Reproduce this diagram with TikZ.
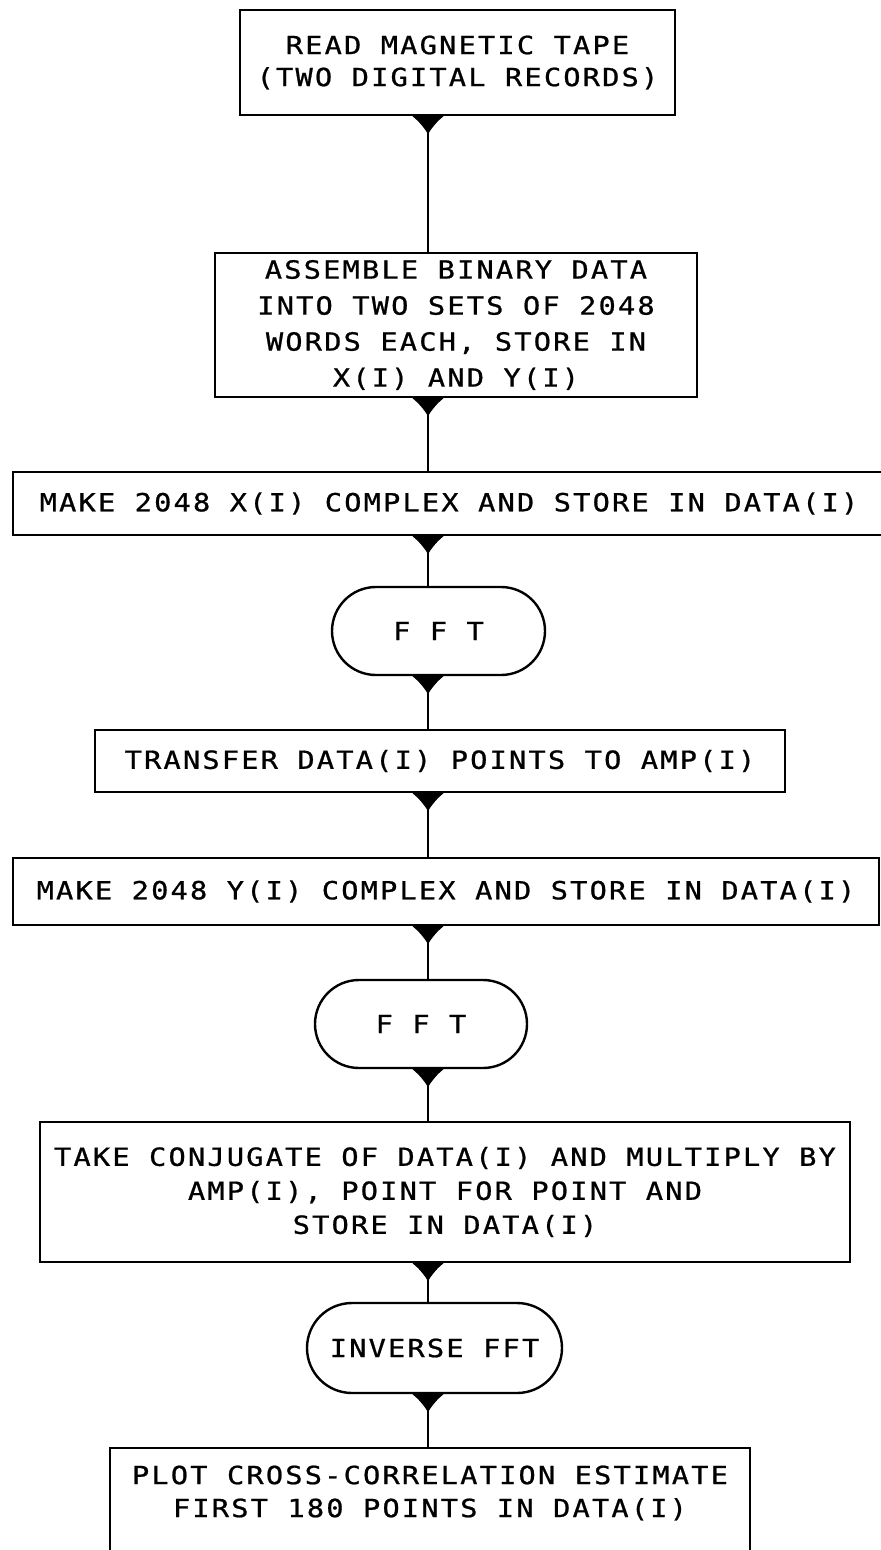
\documentclass[tikz,border=0pt]{standalone}
\usepackage{fontspec}
\setmainfont{DejaVu Sans Mono}[FakeStretch=1.15,LetterSpace=8.5,FakeBold=0.8]
\usetikzlibrary{arrows.meta,shapes.misc}
\newcommand\lrfont[1]{\fontsize{12.5}{#1}\selectfont}
\begin{document}
\begin{tikzpicture}[x=0.5pt,y=-0.5pt,
  box/.style={draw, line width=1.2pt, rectangle, inner sep=0pt, align=center},
  term/.style={draw, line width=1.2pt, rounded rectangle, inner sep=0pt, align=center},
  flow/.style={line width=1.1pt, {Latex[reversed,length=9pt,width=16pt]}-},
  sz/.style 2 args={minimum width=#1*0.5pt, minimum height=#2*0.5pt}]
\path[use as bounding box, fill=white] (0,0) rectangle (881,1550);
\clip (0,0) rectangle (881,1550);
\coordinate (spine) at (428,0);

\node[box, sz={435}{105}, font=\lrfont{16}] (b1) at (457.5,62.5)
  {READ MAGNETIC TAPE\\(TWO DIGITAL RECORDS)};
\node[box, sz={482}{144}, font=\lrfont{18}] (b2) at (456,325)
  {ASSEMBLE BINARY DATA\\INTO TWO SETS OF 2048\\WORDS EACH, STORE IN\\X(I) AND Y(I)};
\node[box, sz={872}{63}, font=\lrfont{17}] (b3) at (449,503.5)
  {MAKE 2048 X(I) COMPLEX AND STORE IN DATA(I)};
\node[term, sz={213}{88}, font=\lrfont{17}] (f1) at (438.5,631) {F F T};
\node[box, sz={690}{62}, font=\lrfont{17}] (b4) at (440,761)
  {TRANSFER DATA(I) POINTS TO AMP(I)};
\node[box, sz={866}{67}, font=\lrfont{17}] (b5) at (446,891.5)
  {MAKE 2048 Y(I) COMPLEX AND STORE IN DATA(I)};
\node[term, sz={212}{88}, font=\lrfont{17}] (f2) at (421,1024) {F F T};
\node[box, sz={810}{140}, font=\lrfont{17}] (b6) at (445,1192)
  {TAKE CONJUGATE OF DATA(I) AND MULTIPLY BY\\AMP(I), POINT FOR POINT AND\\STORE IN DATA(I)};
\node[term, sz={255}{90}, font=\lrfont{17}] (f3) at (434.5,1348) {INVERSE FFT};
\node[box, sz={640}{108}, font=\lrfont{16.5}] (b7) at (430,1502)
  {\raisebox{4pt}[\height][\depth]{\begin{tabular}{@{}c@{}}PLOT CROSS-CORRELATION ESTIMATE\\FIRST 180 POINTS IN DATA(I)\end{tabular}}};

\draw[flow] (b1.south -| spine) -- (b2.north -| spine);
\draw[flow] (b2.south -| spine) -- (b3.north -| spine);
\draw[flow] (b3.south -| spine) -- (f1.north -| spine);
\draw[flow] (f1.south -| spine) -- (b4.north -| spine);
\draw[flow] (b4.south -| spine) -- (b5.north -| spine);
\draw[flow] (b5.south -| spine) -- (f2.north -| spine);
\draw[flow] (f2.south -| spine) -- (b6.north -| spine);
\draw[flow] (b6.south -| spine) -- (f3.north -| spine);
\draw[flow] (f3.south -| spine) -- (b7.north -| spine);
\end{tikzpicture}
\end{document}
